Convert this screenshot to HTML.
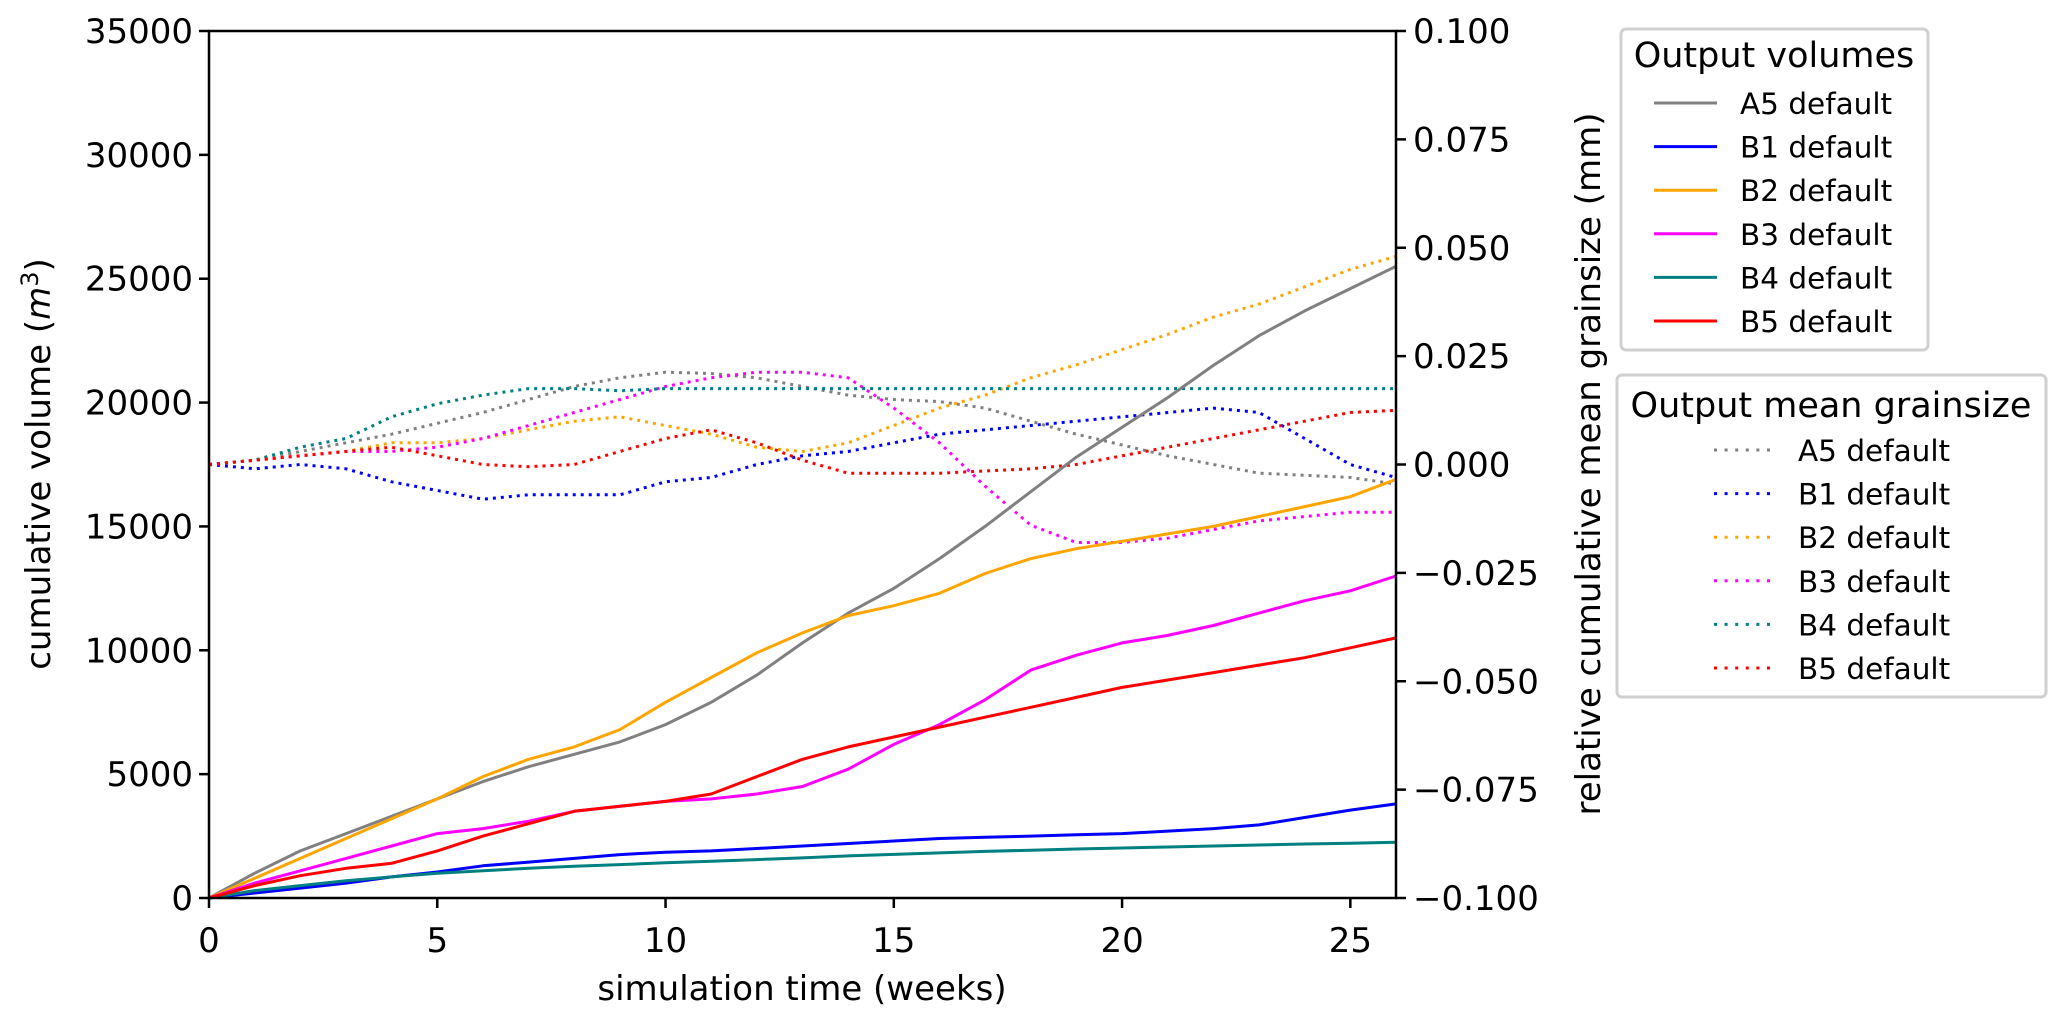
<!DOCTYPE html>
<html><head><meta charset="utf-8"><style>
html,body{margin:0;padding:0;background:#fff;}
svg{display:block;font-family:"DejaVu Sans","Liberation Sans",sans-serif;}
</style></head><body>
<svg id="chart" width="2067" height="1024" viewBox="0 0 2067 1024" xmlns="http://www.w3.org/2000/svg">
<rect width="2067" height="1024" fill="#fff"/>
<g id="series"></g>
<g id="axes"></g>
<text x="802" y="1000" font-size="34" text-anchor="middle">simulation time (weeks)</text>
<text transform="translate(50,464) rotate(-90)" font-size="34" text-anchor="middle">cumulative volume (<tspan font-style="italic">m</tspan><tspan font-size="24" dy="-12">3</tspan><tspan dy="12">)</tspan></text>
<text transform="translate(1600,464) rotate(-90)" font-size="34" text-anchor="middle">relative cumulative mean grainsize (mm)</text>
<g id="legend1">
<rect x="1621" y="29" width="307" height="321" rx="5" fill="#fff" stroke="#d0d0d0" stroke-width="3"/>
<text x="1774" y="67" font-size="35" text-anchor="middle">Output volumes</text>
</g>
<g id="legend2">
<rect x="1617" y="375" width="429" height="322" rx="5" fill="#fff" stroke="#d0d0d0" stroke-width="3"/>
<text x="1831" y="417" font-size="35" text-anchor="middle">Output mean grainsize</text>
</g>
</svg>
<script>
const weeks = [0,1,2,3,4,5,6,7,8,9,10,11,12,13,14,15,16,17,18,19,20,21,22,23,24,25,26];
const seriesNames = ["A5 default","B1 default","B2 default","B3 default","B4 default","B5 default"];
const seriesColors = ["#808080","#0000ff","#ffa500","#ff00ff","#008080","#ff0000"];
const volA5 = [0,1000,1900,2600,3300,4000,4700,5300,5800,6300,7000,7900,9000,10300,11500,12500,13700,15000,16400,17800,19000,20200,21500,22700,23700,24600,25500];
const volB1 = [0,200,400,600,850,1050,1300,1450,1600,1750,1850,1900,2000,2100,2200,2300,2400,2450,2500,2550,2600,2700,2800,2950,3250,3550,3800];
const volB2 = [0,800,1600,2400,3200,4000,4900,5600,6100,6800,7900,8900,9900,10700,11400,11800,12300,13100,13700,14100,14400,14700,15000,15400,15800,16200,16900];
const volB3 = [0,600,1100,1600,2100,2600,2800,3100,3500,3700,3900,4000,4200,4500,5200,6200,7000,8000,9200,9800,10300,10600,11000,11500,12000,12400,13000];
const volB4 = [0,300,500,700,850,1000,1100,1200,1280,1350,1420,1480,1550,1620,1700,1760,1820,1880,1930,1980,2020,2060,2100,2140,2180,2210,2250];
const volB5 = [0,500,900,1200,1400,1900,2500,3000,3500,3700,3900,4200,4900,5600,6100,6500,6900,7300,7700,8100,8500,8800,9100,9400,9700,10100,10500];
const grA5 = [0,0.001,0.003,0.005,0.007,0.0095,0.012,0.015,0.018,0.020,0.0213,0.021,0.020,0.018,0.016,0.015,0.0145,0.013,0.010,0.007,0.0045,0.002,0.0,-0.002,-0.0025,-0.003,-0.0045];
const grB1 = [0,-0.001,0.0,-0.001,-0.004,-0.006,-0.008,-0.007,-0.007,-0.007,-0.004,-0.003,0.0,0.002,0.003,0.005,0.007,0.008,0.009,0.010,0.011,0.012,0.013,0.012,0.006,0.0,-0.003];
const grB2 = [0,0.001,0.002,0.003,0.005,0.005,0.006,0.008,0.010,0.011,0.009,0.007,0.004,0.003,0.005,0.009,0.013,0.016,0.020,0.023,0.0265,0.030,0.034,0.037,0.041,0.045,0.048];
const grB3 = [0,0.001,0.002,0.003,0.003,0.004,0.006,0.009,0.012,0.015,0.018,0.020,0.0213,0.0213,0.020,0.013,0.005,-0.005,-0.014,-0.018,-0.018,-0.017,-0.015,-0.013,-0.012,-0.011,-0.011];
const grB4 = [0,0.001,0.004,0.006,0.011,0.014,0.016,0.0175,0.0175,0.017,0.0175,0.0175,0.0175,0.0175,0.0175,0.0175,0.0175,0.0175,0.0175,0.0175,0.0175,0.0175,0.0175,0.0175,0.0175,0.0175,0.0175];
const grB5 = [0,0.001,0.002,0.003,0.004,0.002,0.0,-0.0005,0.0,0.003,0.006,0.008,0.005,0.001,-0.002,-0.002,-0.002,-0.0015,-0.001,0.0,0.002,0.004,0.006,0.008,0.010,0.012,0.0125];
const xTicks = [0,5,10,15,20,25];
const leftTicks = [0,5000,10000,15000,20000,25000,30000,35000];
const rightTicks = [-0.1,-0.075,-0.05,-0.025,0,0.025,0.05,0.075,0.1];
const rightTickLabels = ["\u22120.100","\u22120.075","\u22120.050","\u22120.025","0.000","0.025","0.050","0.075","0.100"];

const X0=209,X1=1396,Y0=898,Y1=31;
const xs = v => X0 + (v-0)/(26-0)*(X1-X0);
const yl = v => Y0 - v/35000*(Y0-Y1);
const yr = v => Y0 - (v+0.1)/0.2*(Y0-Y1);
const NS="http://www.w3.org/2000/svg";
function mk(tag, attrs, parent){const e=document.createElementNS(NS,tag);for(const k in attrs)e.setAttribute(k,attrs[k]);parent.appendChild(e);return e;}
const sg=document.getElementById('series'), ag=document.getElementById('axes');
const vols=[volA5,volB1,volB2,volB3,volB4,volB5];
const grs=[grA5,grB1,grB2,grB3,grB4,grB5];
function pathD(arr, yf){return arr.map((v,i)=>(i?'L':'M')+xs(weeks[i]).toFixed(1)+','+yf(v).toFixed(1)).join(' ');}
grs.forEach((arr,i)=>{
  const p=mk('path',{d:pathD(arr,yr),fill:'none',stroke:seriesColors[i],'stroke-width':3,'stroke-dasharray':'3,5'},sg);
  
  
});
vols.forEach((arr,i)=>{
  const p=mk('path',{d:pathD(arr,yl),fill:'none',stroke:seriesColors[i],'stroke-width':3,'stroke-linejoin':'round'},sg);
  
  
});
// frame
const fr=mk('rect',{x:X0,y:Y1,width:X1-X0,height:Y0-Y1,fill:'none',stroke:'#000','stroke-width':2.5},ag);


xTicks.forEach(t=>{
  const x=xs(t);
  mk('line',{x1:x,x2:x,y1:Y0,y2:Y0+10,stroke:'#000','stroke-width':2.5},ag);
  const tx=mk('text',{x:x,y:952,'font-size':34,'text-anchor':'middle'},ag);
  tx.textContent=t;
  
  
});
leftTicks.forEach(t=>{
  const y=yl(t);
  mk('line',{x1:X0-10,x2:X0,y1:y,y2:y,stroke:'#000','stroke-width':2.5},ag);
  const tx=mk('text',{x:X0-16,y:y+12,'font-size':34,'text-anchor':'end'},ag);
  tx.textContent=t;
  
  
});
rightTicks.forEach((t,i)=>{
  const y=yr(t);
  mk('line',{x1:X1,x2:X1+10,y1:y,y2:y,stroke:'#000','stroke-width':2.5},ag);
  const tx=mk('text',{x:X1+17,y:y+12,'font-size':34,'text-anchor':'start'},ag);
  tx.textContent=rightTickLabels[i];
  
  
});
// legends
const l1=document.getElementById('legend1'), l2=document.getElementById('legend2');
seriesNames.forEach((n,i)=>{
  const y=103+i*43.6;
  mk('line',{x1:1654,x2:1717,y1:y,y2:y,stroke:seriesColors[i],'stroke-width':3},l1);
  const t=mk('text',{x:1740,y:y+11,'font-size':29.5},l1);
  t.textContent=n;
  
  
  const y2=450+i*43.6;
  mk('line',{x1:1714,x2:1776,y1:y2,y2:y2,stroke:seriesColors[i],'stroke-width':3,'stroke-dasharray':'3,7.6'},l2);
  const t2=mk('text',{x:1798,y:y2+11,'font-size':29.5},l2);
  t2.textContent=n;
  
  
});
</script>
</body></html>
